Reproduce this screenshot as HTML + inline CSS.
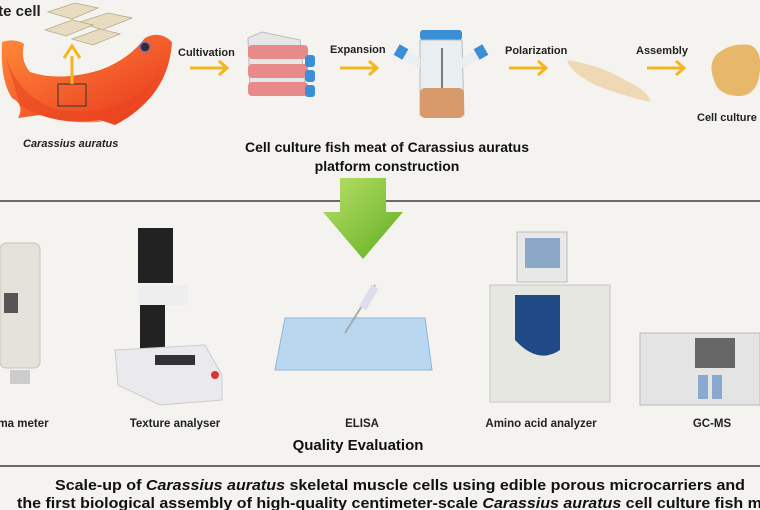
<!DOCTYPE html>
<html><head><meta charset="utf-8"><style>
html,body{margin:0;padding:0;background:#f4f3ef;}
svg{display:block;font-family:"Liberation Sans",sans-serif;}
</style></head><body>
<svg width="760" height="510" viewBox="0 0 760 510" xmlns="http://www.w3.org/2000/svg">
<defs>
<linearGradient id="g" x1="0" y1="0" x2="1" y2="1"><stop offset="0" stop-color="#b9e06a"/><stop offset="1" stop-color="#5fae1e"/></linearGradient>
<linearGradient id="fish" x1="0" y1="0" x2="1" y2="1"><stop offset="0" stop-color="#ff8a3a"/><stop offset="1" stop-color="#e8341c"/></linearGradient>
</defs>
<rect width="760" height="510" fill="#f4f3ef"/>
<text x="-6" y="16" font-size="15" font-weight="bold" fill="#222">ite cell</text>
<g fill="#e8dcc0" stroke="#b5a98a" stroke-width="0.8">
<path d="M48 12 L75 3 L98 8 L72 19 Z"/><path d="M80 22 L108 13 L132 18 L102 30 Z"/>
<path d="M45 30 L72 20 L93 25 L66 36 Z"/><path d="M72 39 L100 29 L120 34 L93 45 Z"/>
</g>
<!-- fish -->
<path d="M2 42 Q15 38 24 44 Q20 60 30 72 Q60 82 100 70 Q128 60 145 38 Q160 30 172 42 Q170 75 150 98 Q135 115 115 125 L100 120 Q70 125 40 115 L18 118 Q25 105 12 98 Q0 80 2 42 Z" fill="url(#fish)"/>
<path d="M5 55 Q20 100 60 110 Q100 115 130 100 Q150 90 160 70 Q150 100 100 122 Q50 125 20 105 Z" fill="#e9451f" opacity="0.6"/>
<circle cx="145" cy="47" r="5" fill="#3a2a30" stroke="#8a6ab0" stroke-width="1.5"/>
<rect x="58" y="84" width="28" height="22" fill="none" stroke="#333" stroke-width="1"/>
<line x1="72" y1="84" x2="72" y2="56" stroke="#f2b71f" stroke-width="3"/>
<path d="M64 58 L72 46 L80 58" fill="none" stroke="#f2b71f" stroke-width="3"/>
<text x="23" y="147" font-size="11" font-style="italic" font-weight="bold" fill="#222">Carassius auratus</text>
<g font-size="11" font-weight="bold" fill="#222">
<text x="178" y="56">Cultivation</text><text x="330" y="53">Expansion</text>
<text x="505" y="54">Polarization</text><text x="636" y="54">Assembly</text>
<text x="697" y="121">Cell culture</text>
</g>
<g stroke="#f2b71f" stroke-width="3" fill="none">
<line x1="190" y1="68" x2="226" y2="68"/><path d="M219 61 L227 68 L219 75"/>
<line x1="340" y1="68" x2="376" y2="68"/><path d="M369 61 L377 68 L369 75"/>
<line x1="509" y1="68" x2="545" y2="68"/><path d="M538 61 L546 68 L538 75"/>
<line x1="647" y1="68" x2="683" y2="68"/><path d="M676 61 L684 68 L676 75"/>
</g>
<path d="M248 38 L262 32 L300 40 L306 95 L250 92 Z" fill="#e6e6e6" stroke="#bbb"/>
<g fill="#e98a8a"><rect x="248" y="45" width="60" height="14" rx="4"/><rect x="248" y="64" width="60" height="14" rx="4"/><rect x="248" y="82" width="60" height="14" rx="4"/></g>
<g fill="#3b8fd6"><rect x="305" y="55" width="10" height="12" rx="3"/><rect x="305" y="70" width="10" height="12" rx="3"/><rect x="305" y="85" width="10" height="12" rx="3"/></g>
<rect x="420" y="30" width="42" height="10" rx="3" fill="#3b8fd6"/>
<path d="M420 40 L462 40 L464 115 L420 115 Z" fill="#e9eef1" stroke="#bbb"/>
<path d="M405 50 L420 58 L420 68 L400 58 Z" fill="#e9eef1"/><rect x="396" y="46" width="10" height="12" fill="#3b8fd6" transform="rotate(30 401 52)"/>
<path d="M478 50 L462 58 L462 68 L482 58 Z" fill="#e9eef1"/><rect x="476" y="46" width="10" height="12" fill="#3b8fd6" transform="rotate(-30 481 52)"/>
<line x1="442" y1="48" x2="442" y2="88" stroke="#555" stroke-width="1.5"/>
<rect x="420" y="88" width="44" height="30" rx="5" fill="#d89a6a"/>
<path d="M567 60 Q600 65 625 80 Q650 92 650 102 Q620 95 595 85 Q570 72 567 60 Z" fill="#efd8b4"/>
<path d="M716 55 Q730 42 750 45 Q762 50 760 70 Q758 95 740 96 Q718 96 714 80 Q708 65 716 55 Z" fill="#e8b86a"/>
<text x="387" y="152" font-size="14" font-weight="bold" fill="#111" text-anchor="middle">Cell culture fish meat of Carassius auratus</text>
<text x="387" y="171" font-size="14" font-weight="bold" fill="#111" text-anchor="middle">platform construction</text>
<line x1="0" y1="201" x2="760" y2="201" stroke="#6a6a6a" stroke-width="2"/>
<path d="M340 178 L386 178 L386 212 L403 212 L363 259 L323 212 L340 212 Z" fill="url(#g)"/>
<rect x="0" y="243" width="40" height="125" rx="6" fill="#e4e2da" stroke="#c7c4ba"/>
<rect x="4" y="293" width="14" height="20" fill="#555"/>
<rect x="10" y="370" width="20" height="14" fill="#ccc"/>
<rect x="138" y="228" width="35" height="55" fill="#222"/>
<rect x="138" y="285" width="50" height="20" fill="#eee"/>
<rect x="140" y="305" width="25" height="50" fill="#222"/>
<path d="M115 350 L205 345 L222 375 L222 400 L160 405 L118 385 Z" fill="#e9e9ee" stroke="#ccc"/>
<rect x="155" y="355" width="40" height="10" fill="#333"/>
<circle cx="215" cy="375" r="4" fill="#d33"/>
<path d="M285 318 L425 318 L432 370 L275 370 Z" fill="#b9d7ef" stroke="#8fb6d8"/>
<line x1="345" y1="333" x2="375" y2="285" stroke="#aaa" stroke-width="2"/>
<rect x="365" y="285" width="8" height="25" fill="#dde" transform="rotate(30 369 297)"/>
<rect x="517" y="232" width="50" height="50" fill="#e8e8e8" stroke="#bbb"/>
<rect x="525" y="238" width="35" height="30" fill="#8ba8c8"/>
<rect x="490" y="285" width="120" height="117" fill="#e7e7e2" stroke="#c5c5c0"/>
<path d="M515 295 L560 295 L560 350 Q538 365 515 340 Z" fill="#1f4a86"/>
<rect x="640" y="333" width="120" height="72" fill="#e4e4e4" stroke="#bbb"/>
<rect x="695" y="338" width="40" height="30" fill="#666"/>
<rect x="698" y="375" width="10" height="24" fill="#8aa8d0"/><rect x="712" y="375" width="10" height="24" fill="#8aa8d0"/>
<g font-size="11.5" font-weight="bold" fill="#222" text-anchor="middle">
<text x="23" y="427">ma meter</text>
<text x="175" y="427">Texture analyser</text>
<text x="362" y="427">ELISA</text>
<text x="541" y="427">Amino acid analyzer</text>
<text x="712" y="427">GC-MS</text>
</g>
<text x="358" y="450" font-size="15" font-weight="bold" fill="#111" text-anchor="middle">Quality Evaluation</text>
<line x1="0" y1="466" x2="760" y2="466" stroke="#6a6a6a" stroke-width="2"/>
<text x="55" y="490" font-size="15" font-weight="bold" fill="#111" textLength="690" lengthAdjust="spacingAndGlyphs">Scale-up of <tspan font-style="italic">Carassius auratus</tspan> skeletal muscle cells using edible porous microcarriers and</text>
<text x="17" y="508" font-size="15" font-weight="bold" fill="#111" textLength="768" lengthAdjust="spacingAndGlyphs">the first biological assembly of high-quality centimeter-scale <tspan font-style="italic">Carassius auratus</tspan> cell culture fish meat</text>
</svg>
</body></html>
